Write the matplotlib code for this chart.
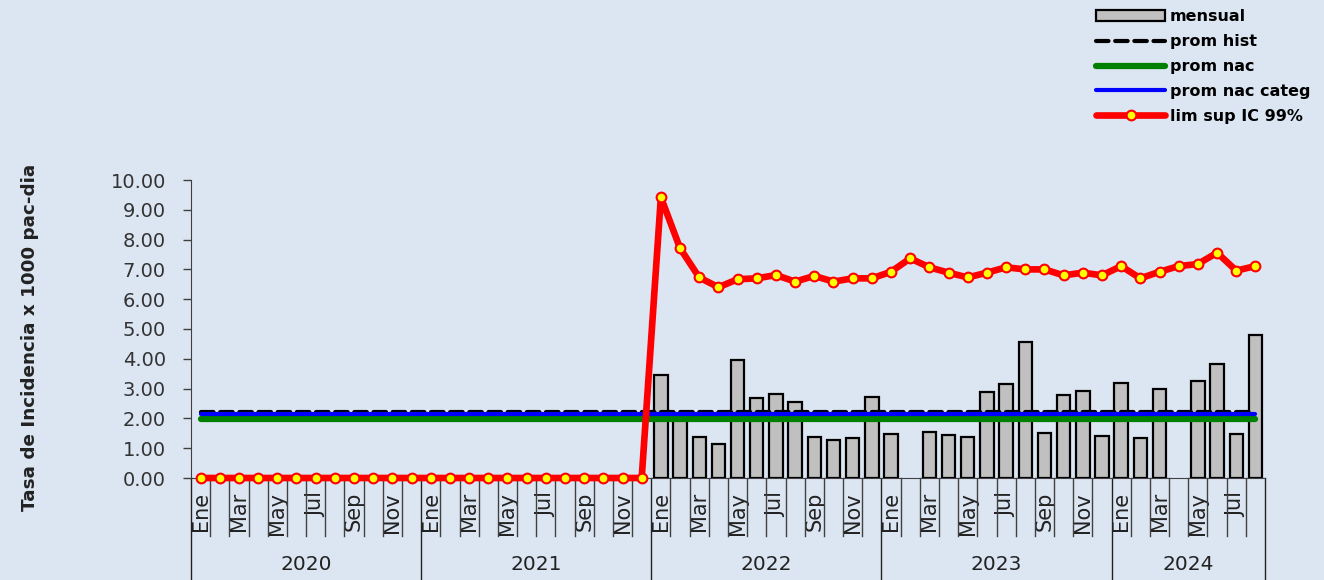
import numpy as np
import matplotlib
matplotlib.use("Agg")
import matplotlib.pyplot as plt
from matplotlib.patches import Patch
from matplotlib.lines import Line2D

# --- data ---
years = ["2020", "2021", "2022", "2023", "2024"]
months_per_year = [12, 12, 12, 12, 8]
month_names = ["Ene", "Feb", "Mar", "Abr", "May", "Jun",
               "Jul", "Ago", "Sep", "Oct", "Nov", "Dic"]

nan = np.nan
mensual = ([nan] * 24 +
           [3.46, 2.10, 1.37, 1.14, 3.95, 2.67, 2.83, 2.56, 1.37, 1.26, 1.33, 2.71] +
           [1.48, nan, 1.55, 1.44, 1.37, 2.90, 3.15, 4.58, 1.52, 2.79, 2.93, 1.41] +
           [3.20, 1.33, 2.98, nan, 3.27, 3.83, 1.48, 4.80])
lim_sup = ([0.0] * 24 +
           [9.42, 7.71, 6.73, 6.40, 6.67, 6.70, 6.81, 6.59, 6.78, 6.59, 6.70, 6.70] +
           [6.92, 7.37, 7.07, 6.89, 6.73, 6.89, 7.07, 7.00, 7.00, 6.80, 6.89, 6.80] +
           [7.11, 6.70, 6.92, 7.11, 7.18, 7.56, 6.96, 7.11])
prom_hist = 2.20
prom_nac = 1.98
prom_nac_categ = 2.16

n = sum(months_per_year)
x = np.arange(n)
labels = [month_names[i] for m in months_per_year for i in range(m)]

bg = "#dce6f2"
fig = plt.figure(figsize=(13.24, 5.8), dpi=100, facecolor=bg)
ax = fig.add_axes([191 / 1324, 102 / 580, 1074 / 1324, 298 / 580], facecolor=bg)

ax.bar(x, mensual, width=0.7, color="#c0c0c0", edgecolor="black", linewidth=1.6, zorder=2)
ax.plot(x, [prom_hist] * n, color="black", lw=3, dashes=(3, 1.6),
        dash_capstyle="round", zorder=3)
ax.plot(x, [prom_nac] * n, color="#008000", lw=4.5, solid_capstyle="round", zorder=3)
ax.plot(x, [prom_nac_categ] * n, color="#0000ff", lw=3, solid_capstyle="round", zorder=4)
ax.plot(x, lim_sup, color="#ff0000", lw=4.8, marker="o", ms=7, mfc="#ffff00",
        mec="#ff0000", mew=1.5, solid_joinstyle="round", clip_on=False, zorder=5)

ax.set_xlim(-0.5, n - 0.5)
ax.set_ylim(0, 10)
ax.set_yticks(np.arange(0, 11, 1))
ax.set_yticklabels([f"{v:.2f}" for v in np.arange(0, 11, 1)], fontsize=14, color="#333333")
ax.tick_params(axis="y", length=6, width=1, color="#404040", pad=12)
for s in ["top", "right"]:
    ax.spines[s].set_visible(False)
ax.spines["left"].set_color("#404040")
ax.spines["bottom"].set_color("#404040")

# month labels every other month, rotated
ax.set_xticks(x[::2])
ax.set_xticklabels(labels[::2], rotation=90, fontsize=15, color="#222222", va="top")
ax.tick_params(axis="x", length=0, pad=10)

# separators under the axis
tr = ax.get_xaxis_transform()
bounds = np.cumsum([0] + months_per_year) - 0.5
for b in np.arange(-0.5, n, 1.0):
    if b in bounds:
        continue
    ax.plot([b, b], [0, -0.195], transform=tr, color="#404040", lw=1, clip_on=False)
for b in bounds:
    ax.plot([b, b], [0, -0.345], transform=tr, color="#222222", lw=1, clip_on=False)
for i, yr in enumerate(years):
    c = (bounds[i] + bounds[i + 1]) / 2
    ax.text(c, -0.29, yr, transform=tr, ha="center", va="center", fontsize=14.5, color="#222222")

fig.text(30 / 1324, 0.418, "Tasa de Incidencia x 1000 pac-dia", rotation=90,
         ha="center", va="center", fontsize=13.2, fontweight="bold", color="#222222")

handles = [
    Patch(facecolor="#c0c0c0", edgecolor="black", linewidth=1.6),
    Line2D([], [], color="black", lw=3, dashes=(3, 1.6), dash_capstyle="round"),
    Line2D([], [], color="#008000", lw=4.5, solid_capstyle="round"),
    Line2D([], [], color="#0000ff", lw=3, solid_capstyle="round"),
    Line2D([], [], color="#ff0000", lw=4.8, marker="o", ms=7, mfc="#ffff00",
           mec="#ff0000", mew=1.5, solid_capstyle="round"),
]
names = ["mensual", "prom hist", "prom nac", "prom nac categ", "lim sup IC 99%"]
fig.legend(handles, names, loc="upper left", bbox_to_anchor=(1090 / 1324, 0.995),
           frameon=False, numpoints=1, handlelength=4.3, handletextpad=0.3,
           labelspacing=0.62, borderaxespad=0,
           prop={"size": 11.5, "weight": "bold"})

fig.savefig("out.png", dpi=100, facecolor=bg)
